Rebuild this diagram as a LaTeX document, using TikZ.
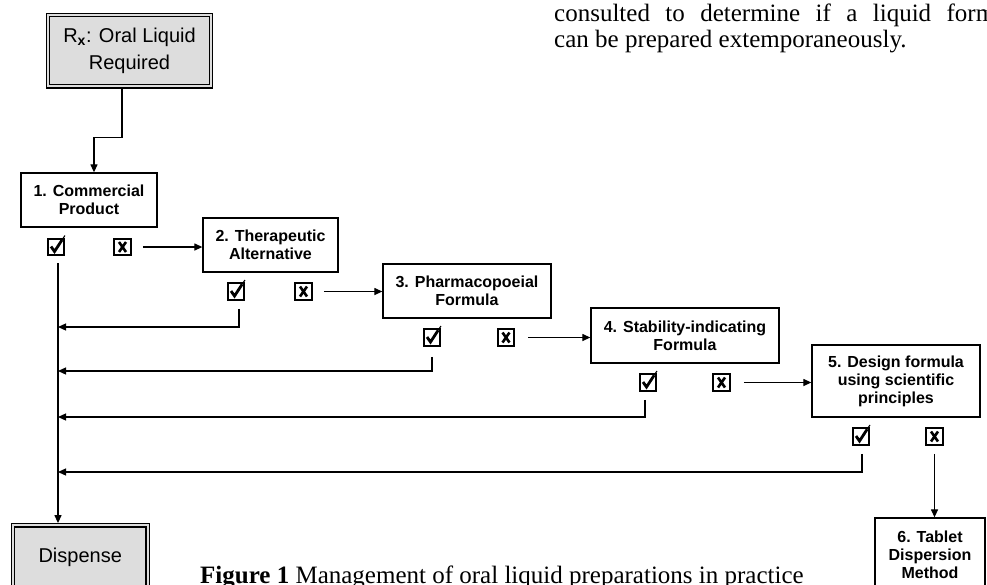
\documentclass[tikz,border=0pt]{standalone}
\usepackage{fontspec}
\setmainfont{Liberation Serif}
\newfontfamily\arialf{Liberation Sans}
\usetikzlibrary{arrows.meta,calc}
\definecolor{boxgray}{RGB}{221,221,221}
\newcommand\tickmark[1]{%
  \draw[line width=2.8pt, line join=miter] ($(#1.center)+(-5,-0.5)$) -- ($(#1.center)+(-1.5,4.5)$) -- ($(#1.center)+(6,-7)$);
  \draw[line width=1.1pt] ($(#1.center)+(5.5,-6.5)$) -- ($(#1.center)+(9,-11.5)$);}
\newcommand\crossmark[1]{%
  \draw[line width=2.6pt] ($(#1.center)+(-3.5,-5)$) -- ($(#1.center)+(3.5,5)$)
    ($(#1.center)+(3.5,-5)$) -- ($(#1.center)+(-3.5,5)$);}
\begin{document}
\begin{tikzpicture}[x=1pt,y=-1pt,
  box/.style={draw, line width=1.3pt, fill=white, align=center, inner sep=0pt,
    font=\arialf\bfseries\fontsize{16}{18}\selectfont},
  gbox/.style={draw=black, line width=1.2pt, double=boxgray, double distance=2pt,
    fill=boxgray, inner sep=0pt, outer sep=2.2pt, align=center,
    font=\arialf\fontsize{20}{27}\selectfont},
  chk/.style={draw, line width=2.3pt, minimum size=16.5pt, inner sep=0pt, fill=white},
  arr/.style={line width=1.25pt, -{Triangle[length=8pt,width=7pt]}},
  body/.style={anchor=base west, inner sep=0pt}
]
\useasboundingbox (0,0) rectangle (987,584);
\clip (0,0) rectangle (987,584);

% top paragraph fragment
\node[body, font=\fontsize{25}{26}\selectfont] (t1) at (554,21)
  {\makebox[441pt][s]{consulted to determine if a liquid form}};
\node[body, font=\fontsize{25}{26}\selectfont] (t2) at (554,47)
  {can be prepared extemporaneously.};

% boxes
\node[gbox, minimum width=163, minimum height=71.6] (rx) at (129.5,50.5)
  {R\textsubscript{\textbf{x}}: Oral Liquid\\Required};
\node[box, minimum width=136, minimum height=54] (b1) at (89,200) {1. Commercial\\Product};
\node[box, minimum width=135, minimum height=54] (b2) at (270.5,245) {2. Therapeutic\\Alternative};
\node[box, minimum width=168, minimum height=54] (b3) at (467,291) {3. Pharmacopoeial\\Formula};
\node[box, minimum width=188, minimum height=55] (b4) at (685,335.5) {4. Stability-indicating\\Formula};
\node[box, minimum width=168, minimum height=72] (b5) at (896,381) {5. Design formula\\using scientific\\principles};
\node[box, minimum width=110, minimum height=74] (b6) at (930,555) {6. Tablet\\Dispersion\\Method};
\node[gbox, minimum width=134.7, minimum height=64] (d) at (80.2,557.3) {Dispense};

% check / cross boxes
\node[chk] (c1) at (56,247) {};   \tickmark{c1}
\node[chk] (x1) at (122.5,247) {}; \crossmark{x1}
\node[chk] (c2) at (236,291.5) {}; \tickmark{c2}
\node[chk] (x2) at (303.5,291.5) {}; \crossmark{x2}
\node[chk] (c3) at (432,337.5) {}; \tickmark{c3}
\node[chk] (x3) at (506,337.5) {}; \crossmark{x3}
\node[chk] (c4) at (648,382.5) {}; \tickmark{c4}
\node[chk] (x4) at (721.5,382.5) {}; \crossmark{x4}
\node[chk] (c5) at (861,436.5) {}; \tickmark{c5}
\node[chk] (x5) at (934.5,436.5) {}; \crossmark{x5}

% junctions on the main return line
\coordinate (m0) at ($(c1.south)+(2,7)$);
\coordinate (j2) at (58,327);
\coordinate (j3) at (58,371);
\coordinate (j4) at (58,417);
\coordinate (j5) at (58,472);

% connectors
\draw[arr] ($(rx.south)+(-7.5,0)$) -- ++(0,49) -| ($(b1.north)+(5,0)$);
\draw[arr] (m0) -- (m0 |- d.north);
\draw[arr] ($(x1.east)+(11,0)$) -- (x1.east -| b2.west);
\draw[arr] ($(x2.east)+(11,0)$) -- (x2.east -| b3.west);
\draw[arr] ($(x3.east)+(13,0)$) -- (x3.east -| b4.west);
\draw[arr] ($(x4.east)+(13,0)$) -- (x4.east -| b5.west);
\draw[arr] ($(c2.south)+(3,8)$) |- (j2);
\draw[arr] ($(c3.south)+(0,10)$) |- (j3);
\draw[arr] ($(c4.south)+(-3,8)$) |- (j4);
\draw[arr] ($(c5.south)+(1,8)$) |- (j5);
\draw[arr] ($(x5.south)+(0,8)$) -- (x5.south |- b6.north);

% caption
\node[body, font=\fontsize{25}{28}\selectfont] (cap) at (200,583)
  {\textbf{Figure 1} Management of oral liquid preparations in practice};
\end{tikzpicture}
\end{document}
